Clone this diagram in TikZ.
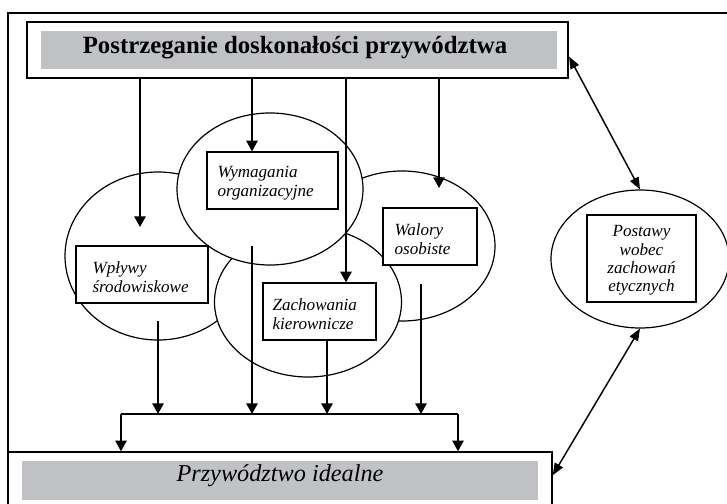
\documentclass[tikz,border=0pt]{standalone}
\usepackage{fontspec}
\setmainfont{Liberation Serif}
\usetikzlibrary{arrows.meta,shapes.geometric}
\definecolor{bandgray}{RGB}{193,194,198}
\begin{document}
\begin{tikzpicture}[x=0.75pt,y=-0.75pt,
  sz/.style 2 args={minimum width={#1*0.75pt},minimum height={#2*0.75pt}},
  ell/.style={ellipse,draw,fill=white,line width=0.9pt,inner sep=0pt},
  boxn/.style={rectangle,draw,fill=white,line width=1pt,inner sep=0pt},
  band/.style={rectangle,fill=bandgray,inner sep=0pt},
  lbl/.style={font=\fontsize{12.8}{14.4}\selectfont\itshape,align=left,inner sep=0pt,anchor=west},
  arr/.style={line width=1.3pt,-{Triangle[length=8pt,width=8.5pt]}},
  darr/.style={line width=1.1pt,{Triangle[length=9pt,width=7pt]}-{Triangle[length=9pt,width=7pt]}}]

\useasboundingbox (0,0) rectangle (727,503);
\clip (0,0) rectangle (727,503);
\draw[line width=1pt] (8,13) rectangle (800,600);

% top box
\node[boxn, line width=1.6pt, sz={541}{56}] (top) at (297.5,50) {};
\node[band, sz={516}{38}] (topband) at (299,50) {};
\node[font=\fontsize{18.6}{20}\selectfont\bfseries, inner sep=0pt] (toptxt) at (295,48) {Postrzeganie doskonałości przywództwa};

% bottom box
\node[boxn, line width=1.1pt, sz={544}{80}] (bot) at (280,492) {};
\node[band, sz={516}{39}] (botband) at (280,480.5) {};
\node[font=\fontsize{18.2}{20}\selectfont\itshape, inner sep=0pt] (bottxt) at (280,476) {Przywództwo idealne};

% ellipses
\node[ell, sz={186}{168}] (ewp) at (158,256) {};
\node[ell, sz={186}{150}] (ewal) at (402,246) {};
\node[ell, sz={187}{150}] (ezach) at (308,302) {};
\node[ell, sz={186}{152}] (ewym) at (270,189) {};
\node[ell, sz={178}{138}] (epost) at (640,259) {};

% boxes
\node[boxn, sz={131}{57}] (wym) at (272.5,180.5) {};
\node[boxn, sz={132}{57}] (wp) at (142,274.5) {};
\node[boxn, sz={113}{57}] (zach) at (319.5,311.5) {};
\node[boxn, sz={94}{57}] (wal) at (430,236.5) {};
\node[boxn, sz={109}{87}] (post) at (641.5,258.5) {};

% labels
\node[lbl] (wymtxt) at ([xshift=11*0.75pt, yshift=-1.8pt]wym.west) {Wymagania\\organizacyjne};
\node[lbl] (wptxt) at ([xshift=17*0.75pt, yshift=-1.8pt]wp.west) {Wpływy\\środowiskowe};
\node[lbl] (zachtxt) at ([xshift=10*0.75pt, yshift=-1.8pt]zach.west) {Zachowania\\kierownicze};
\node[lbl] (waltxt) at ([xshift=12*0.75pt, yshift=-1.8pt]wal.west) {Walory\\osobiste};
\node[font=\fontsize{12.8}{13.7}\selectfont\itshape, align=center, inner sep=0pt] (posttxt) at ([yshift=-1.6pt]post.center) {Postawy\\wobec\\zachowań\\etycznych};

% arrows from top
\coordinate (a1) at (140,227);
\coordinate (x2) at (252,0);
\coordinate (x3) at (346,0);
\coordinate (a4) at (439,188);
\draw[arr] (top.south -| a1) -- (a1);
\draw[arr] (top.south -| x2) -- (wym.north -| x2);
\draw[arr] (top.south -| x3) -- (zach.north -| x3);
\draw[arr] (top.south -| a4) -- (a4);

% arrows to bottom
\coordinate (s1) at (158,321);
\coordinate (s2) at (252,246);
\coordinate (x5) at (327,0);
\coordinate (s4) at (421,284);
\coordinate (bl) at (121,414);
\coordinate (br) at (458,414);
\draw[arr] (s1) -- (s1 |- bl);
\draw[arr] (s2) -- (s2 |- bl);
\draw[arr] (zach.south -| x5) -- (x5 |- bl);
\draw[arr] (s4) -- (s4 |- bl);
\draw[line width=1.3pt] (bl) -- (br);
\draw[arr] (bl) -- (bl |- bot.north);
\draw[arr] (br) -- (br |- bot.north);

% double arrows
\draw[darr] ([yshift=-5pt]top.east) -- (epost.north);
\draw[darr] (epost.south) -- ([yshift=-18pt]bot.north east);
\end{tikzpicture}
\end{document}
